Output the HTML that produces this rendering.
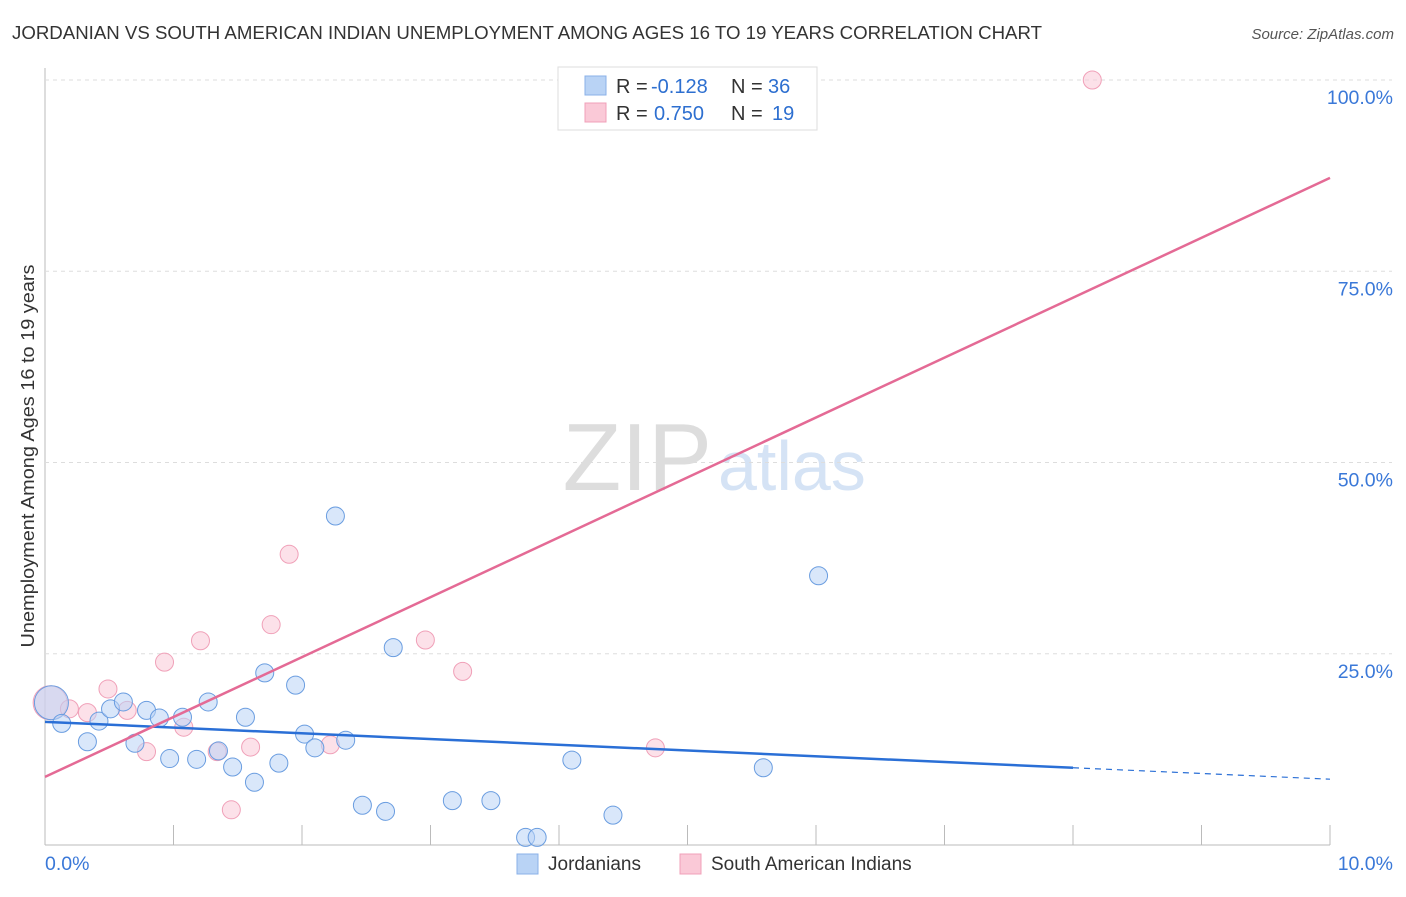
<!DOCTYPE html>
<html><head><meta charset="utf-8"><style>
body{margin:0;background:#fff;font-family:"Liberation Sans",sans-serif;}
svg text{font-family:"Liberation Sans",sans-serif;}
</style></head><body>
<svg id="c" width="1406" height="892">
<text x="12" y="39" font-size="18" fill="#333" textLength="1030" lengthAdjust="spacingAndGlyphs">JORDANIAN VS SOUTH AMERICAN INDIAN UNEMPLOYMENT AMONG AGES 16 TO 19 YEARS CORRELATION CHART</text>
<text x="1394" y="39" font-size="15" fill="#555" text-anchor="end" font-style="italic">Source: ZipAtlas.com</text>
<text x="34" y="456" font-size="18" fill="#333" text-anchor="middle" textLength="383" lengthAdjust="spacingAndGlyphs" transform="rotate(-90 34 456)">Unemployment Among Ages 16 to 19 years</text>
<text x="712" y="490" font-size="96" fill="#ddd" text-anchor="end" font-family="Liberation Serif">ZIP</text>
<text x="718" y="490" font-size="70" fill="#d5e3f5">atlas</text>
<g id="grid"></g><g id="pts"></g><g id="lines"></g>
<g>
<rect x="558" y="67" width="259" height="63" fill="#fff" stroke="#ddd"/>
<rect x="585" y="76" width="21" height="19" fill="#b9d3f5" stroke="#8ab0e8"/>
<rect x="585" y="103" width="21" height="19" fill="#fac9d7" stroke="#f0a0b8"/>
<text x="616" y="93" font-size="20" fill="#333">R = <tspan fill="#2d6fd0" x="651">-0.128</tspan><tspan x="731">N = </tspan><tspan fill="#2d6fd0" x="768">36</tspan></text>
<text x="616" y="120" font-size="20" fill="#333">R = <tspan fill="#2d6fd0" x="654">0.750</tspan><tspan x="731">N = </tspan><tspan fill="#2d6fd0" x="772">19</tspan></text>
</g>
<g>
<rect x="517" y="854" width="21" height="20" fill="#b9d3f5" stroke="#8ab0e8"/>
<text x="548" y="870" font-size="19" fill="#333">Jordanians</text>
<rect x="680" y="854" width="21" height="20" fill="#fac9d7" stroke="#f0a0b8"/>
<text x="711" y="870" font-size="19" fill="#333">South American Indians</text>
</g>
</svg>
<script>
const xTicks=[0,1,2,3,4,5,6,7,8,9,10];
const yTicks=[25,50,75,100];
const blueX=[0.05,0.13,0.33,0.42,0.51,0.61,0.70,0.79,0.89,0.97,1.07,1.18,1.27,1.35,1.46,1.56,1.63,1.71,1.82,1.95,2.02,2.10,2.26,2.34,2.47,2.65,2.71,3.17,3.47,3.74,3.83,4.10,4.42,5.59,6.02];
const blueY=[18.6,15.9,13.5,16.2,17.8,18.7,13.3,17.6,16.6,11.3,16.7,11.2,18.7,12.3,10.2,16.7,8.2,22.5,10.7,20.9,14.5,12.7,43.0,13.7,5.2,4.4,25.8,5.8,5.8,1.0,1.0,11.1,3.9,10.1,35.2];
const pinkX=[0.04,0.19,0.33,0.49,0.64,0.79,0.93,1.08,1.21,1.34,1.45,1.60,1.76,1.90,2.22,2.96,3.25,4.75,8.15];
const pinkY=[18.6,17.8,17.3,20.4,17.6,12.2,23.9,15.4,26.7,12.2,4.6,12.8,28.8,38.0,13.1,26.8,22.7,12.7,100];
const blueLine=[16.1,8.6];
const pinkLine=[8.9,87.2];
const NS="http://www.w3.org/2000/svg";
const X=v=>45+v*128.5, Y=v=>845-v*7.65;
function mk(t,a,p){const e=document.createElementNS(NS,t);for(const k in a)e.setAttribute(k,a[k]);p.appendChild(e);return e;}
const g=document.getElementById('grid');
mk('line',{x1:45,y1:68,x2:45,y2:845,stroke:'#bbb'},g);
mk('line',{x1:45,y1:845,x2:1330,y2:845,stroke:'#bbb'},g);
yTicks.forEach(t=>{const l=mk('line',{x1:45,y1:Y(t),x2:1392,y2:Y(t),stroke:'#ddd','stroke-dasharray':'4 4'},g);


const tx=mk('text',{x:1393,y:Y(t)+24,'font-size':19.5,fill:'#3a78d8','text-anchor':'end'},g);tx.textContent=t.toFixed(1)+'%';

});
xTicks.forEach(t=>{if(t>0){const l=mk('line',{x1:X(t),y1:825,x2:X(t),y2:845,stroke:'#bbb'},g);

}});
[[0,'0.0%','start',45],[10,'10.0%','end',1393]].forEach(a=>{const tx=mk('text',{x:a[3],y:870,'font-size':19.5,fill:'#3a78d8','text-anchor':a[2]},g);tx.textContent=a[1];

});
const p=document.getElementById('pts');
function dots(xs,ys,fill,stroke,name){xs.forEach((x,i)=>{const c=mk('circle',{cx:X(x),cy:Y(ys[i]),r:i===0?17:9,fill:fill,'fill-opacity':0.55,stroke:stroke,'stroke-width':1},p);

});}
dots(pinkX,pinkY,'#fac9d7','#f0a0b8','south-american-indian-point');
dots(blueX,blueY,'#b9d3f5','#6a9de0','jordanian-point');
const L=document.getElementById('lines');
const b8=blueLine[0]+(blueLine[1]-blueLine[0])*0.8;
let l1=mk('line',{x1:X(0),y1:Y(blueLine[0]),x2:X(8),y2:Y(b8),stroke:'#2a6fd6','stroke-width':2.5},L);


let l2=mk('line',{x1:X(8),y1:Y(b8),x2:X(10),y2:Y(blueLine[1]),stroke:'#2a6fd6','stroke-width':1.2,'stroke-dasharray':'6 5'},L);


let l3=mk('line',{x1:X(0),y1:Y(pinkLine[0]),x2:X(10),y2:Y(pinkLine[1]),stroke:'#e46a95','stroke-width':2.5},L);


</script>
</body></html>
